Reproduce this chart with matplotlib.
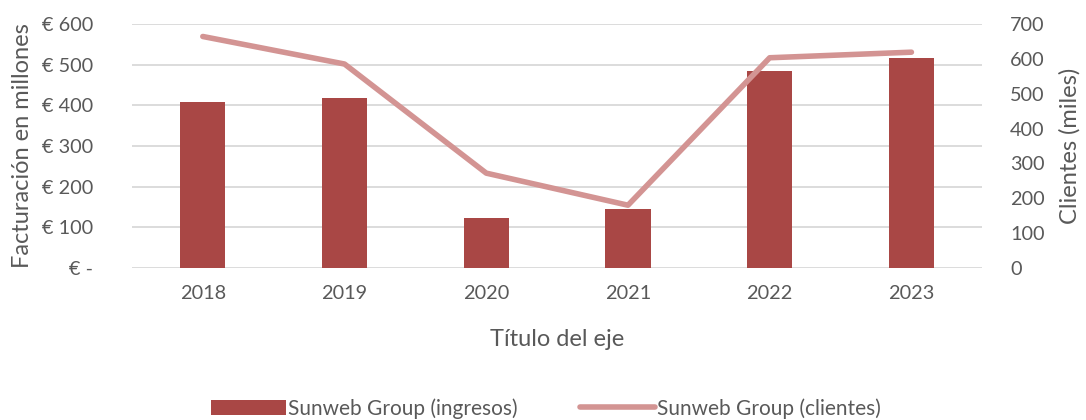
import matplotlib
matplotlib.use("Agg")
import matplotlib.pyplot as plt
import numpy as np

years = ["2018", "2019", "2020", "2021", "2022", "2023"]
ingresos = [409, 419, 123, 144, 485, 516]
clientes = [664, 585, 272, 180, 603, 619]
left_ticks = [0, 100, 200, 300, 400, 500, 600]
left_labels = ["€ -", "€ 100", "€ 200", "€ 300", "€ 400", "€ 500", "€ 600"]
right_ticks = [0, 100, 200, 300, 400, 500, 600, 700]

plt.rcParams['font.family'] = ['Lato', 'DejaVu Sans']
txt = '#595959'
bar_c = '#A94745'
line_c = '#D39493'

fig = plt.figure(figsize=(10.86, 4.2), dpi=100)
ax = fig.add_axes([0.1215, 0.362, 0.783, 0.581])
x = np.arange(len(years))

ax.bar(x, ingresos, width=0.32, color=bar_c, zorder=3, label='Sunweb Group (ingresos)')
ax.set_xlim(-0.5, len(years) - 0.5)
ax.set_ylim(0, 600)
ax.set_yticks(left_ticks)
ax.set_yticklabels(left_labels)
ax.set_xticks(x)
ax.set_xticklabels(years)
ax.grid(axis='y', color='#D9D9D9', linewidth=1.3, zorder=0)
for s in ax.spines.values():
    s.set_visible(False)
ax.tick_params(length=0, labelsize=14.3, colors=txt)
ax.tick_params(axis='y', pad=28)
ax.tick_params(axis='x', pad=12)
ax.set_ylabel("Facturación en millones", fontsize=17, color=txt, labelpad=6)
ax.set_xlabel("Título del eje", fontsize=17, color=txt, labelpad=20)

ax2 = ax.twinx()
ax2.plot(x, clientes, color=line_c, linewidth=4, solid_capstyle='round',
         zorder=4, label='Sunweb Group (clientes)')
ax2.set_ylim(0, 700)
ax2.set_yticks(right_ticks)
for s in ax2.spines.values():
    s.set_visible(False)
ax2.tick_params(length=0, labelsize=14.3, colors=txt, pad=20)
ax2.set_ylabel("Clientes (miles)", fontsize=17, color=txt, labelpad=10)

h1, l1 = ax.get_legend_handles_labels()
h2, l2 = ax2.get_legend_handles_labels()
fig.legend(h1 + h2, l1 + l2, loc='center', bbox_to_anchor=(0.503, 0.028), ncol=2,
           frameon=False, fontsize=15, labelcolor=txt, handlelength=3.6,
           handletextpad=0.1, columnspacing=3)

fig.savefig("out.png", dpi=100)
